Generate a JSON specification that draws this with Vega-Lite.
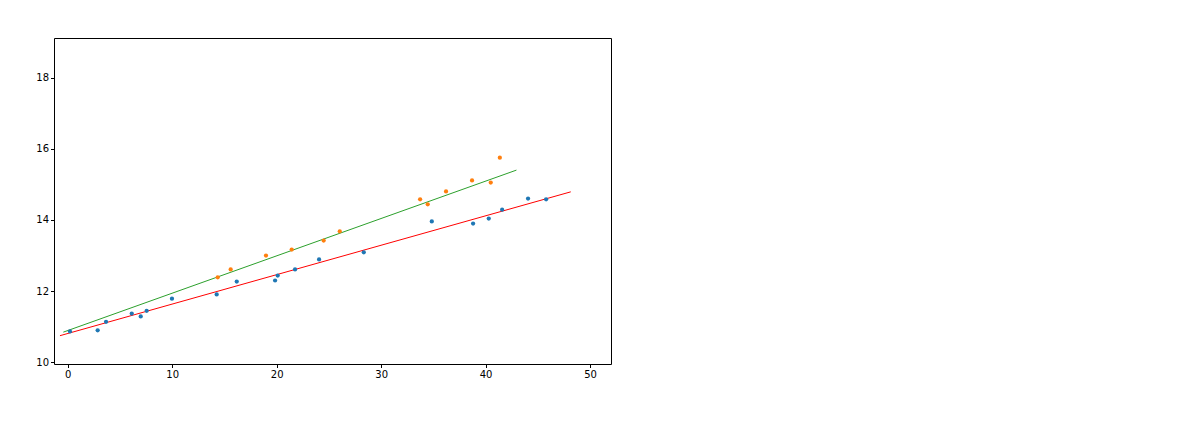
{
  "$schema": "https://vega.github.io/schema/vega-lite/v6.json",
  "width": 557,
  "height": 326,
  "autosize": {"type": "none"},
  "padding": {"left": 54, "top": 38, "right": 590, "bottom": 79},
  "background": "white",
  "config": {
    "view": {"stroke": "#000000", "strokeWidth": 1},
    "axis": {
      "grid": false,
      "domain": false,
      "tickColor": "#000000",
      "tickSize": 3.5,
      "labelColor": "#000000",
      "labelFont": "DejaVu Sans",
      "labelFontSize": 10,
      "title": null
    }
  },
  "datasets": {
    "pts": [
      {"x": 0.22, "y": 10.87, "s": "a"},
      {"x": 2.87, "y": 10.9, "s": "a"},
      {"x": 3.67, "y": 11.14, "s": "a"},
      {"x": 6.13, "y": 11.37, "s": "a"},
      {"x": 6.99, "y": 11.29, "s": "a"},
      {"x": 7.56, "y": 11.45, "s": "a"},
      {"x": 9.98, "y": 11.79, "s": "a"},
      {"x": 14.26, "y": 11.91, "s": "a"},
      {"x": 16.18, "y": 12.27, "s": "a"},
      {"x": 19.85, "y": 12.3, "s": "a"},
      {"x": 20.1, "y": 12.44, "s": "a"},
      {"x": 21.76, "y": 12.61, "s": "a"},
      {"x": 24.06, "y": 12.89, "s": "a"},
      {"x": 28.34, "y": 13.09, "s": "a"},
      {"x": 34.85, "y": 13.96, "s": "a"},
      {"x": 38.8, "y": 13.9, "s": "a"},
      {"x": 40.3, "y": 14.04, "s": "a"},
      {"x": 41.58, "y": 14.29, "s": "a"},
      {"x": 44.06, "y": 14.6, "s": "a"},
      {"x": 45.79, "y": 14.58, "s": "a"},
      {"x": 14.36, "y": 12.39, "s": "b"},
      {"x": 15.6, "y": 12.61, "s": "b"},
      {"x": 18.98, "y": 13.0, "s": "b"},
      {"x": 21.44, "y": 13.17, "s": "b"},
      {"x": 24.5, "y": 13.42, "s": "b"},
      {"x": 26.04, "y": 13.68, "s": "b"},
      {"x": 33.73, "y": 14.58, "s": "b"},
      {"x": 34.46, "y": 14.44, "s": "b"},
      {"x": 36.21, "y": 14.8, "s": "b"},
      {"x": 38.7, "y": 15.11, "s": "b"},
      {"x": 40.49, "y": 15.05, "s": "b"},
      {"x": 41.36, "y": 15.75, "s": "b"}
    ],
    "lines": [
      {"x": -0.74, "y": 10.75, "s": "red"},
      {"x": 48.15, "y": 14.79, "s": "red"},
      {"x": -0.42, "y": 10.85, "s": "green"},
      {"x": 42.95, "y": 15.4, "s": "green"}
    ]
  },
  "layer": [
    {
      "data": {"name": "lines"},
      "mark": {"type": "line", "strokeWidth": 1, "clip": true},
      "encoding": {
        "x": {"field": "x", "type": "quantitative", "scale": {"domain": [-1.31, 52.0], "nice": false, "zero": false}, "axis": {"values": [0, 10, 20, 30, 40, 50]}},
        "y": {"field": "y", "type": "quantitative", "scale": {"domain": [9.955, 19.11], "nice": false, "zero": false}, "axis": {"values": [10, 12, 14, 16, 18]}},
        "detail": {"field": "s"},
        "color": {"field": "s", "type": "nominal", "scale": {"domain": ["red", "green", "a", "b"], "range": ["#ff0000", "#2ca02c", "#1f77b4", "#ff7f0e"]}, "legend": null}
      }
    },
    {
      "data": {"name": "pts"},
      "mark": {"type": "circle", "size": 18, "opacity": 1},
      "encoding": {
        "x": {"field": "x", "type": "quantitative"},
        "y": {"field": "y", "type": "quantitative"},
        "color": {"field": "s", "type": "nominal", "legend": null}
      }
    }
  ]
}
